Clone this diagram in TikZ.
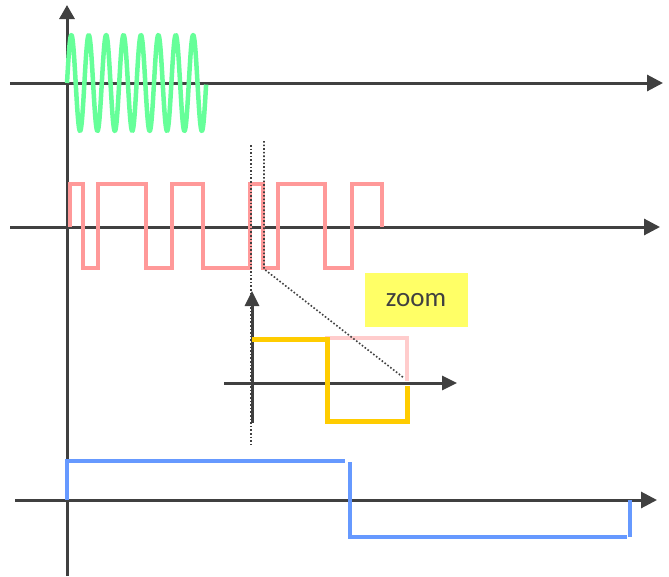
\documentclass[tikz,border=0pt]{standalone}
\usepackage{fontspec}
\newfontfamily\zoomfont{Carlito}
\usetikzlibrary{arrows.meta}
\definecolor{axisgray}{HTML}{404040}
\definecolor{sinegreen}{HTML}{66FF99}
\definecolor{sqpink}{HTML}{FF9999}
\definecolor{lightpink}{HTML}{FFCCCC}
\definecolor{zoomorange}{HTML}{FFCC00}
\definecolor{sqblue}{HTML}{6699FF}
\definecolor{zoomyellow}{HTML}{FFFF66}
\begin{document}
\begin{tikzpicture}[x=1pt,y=-1pt,
  axisline/.style={draw=axisgray,line width=3pt,-{Triangle[length=16pt,width=16pt]}},
  smallaxis/.style={draw=axisgray,line width=3pt,-{Triangle[length=15pt,width=14pt]}},
  sinewave/.style={draw=sinegreen,line width=4.5pt},
  pinkwave/.style={draw=sqpink,line width=4pt,line join=miter},
  bluewave/.style={draw=sqblue,line width=4pt},
  orangewave/.style={draw=zoomorange,line width=5pt},
  lightwave/.style={draw=lightpink,line width=4.5pt},
  dotline/.style={draw=axisgray,line width=1.6pt,dash pattern=on 1.6pt off 2pt},
  zoomlabel/.style={fill=zoomyellow,text=axisgray,font=\zoomfont\fontsize{27}{30}\selectfont,
    minimum width=103pt,minimum height=54pt,inner sep=0pt}]
\useasboundingbox (0,0) rectangle (669,576);
\fill[white] (0,0) rectangle (669,576);

% axes
\draw[axisline] (10,83) -- (663,83);
\draw[axisline] (10,227) -- (660,227);
\draw[axisline] (15,500) -- (657,500);
\draw[draw=axisgray,line width=3pt,-{Triangle[length=14pt,width=15pt]}] (67,576) -- (67,5);

% green sine burst
\draw[sinewave,line join=round] plot[domain=0:8,samples=500,smooth] ({67+17.4*\x},{83-48*sin(360*\x)});

% pink square wave
\draw[pinkwave] (70,227) -- (70,184) -- (83,184) -- (83,268) -- (98,268) -- (98,184)
  -- (146,184) -- (146,268) -- (172,268) -- (172,184) -- (203,184) -- (203,268)
  -- (250,268) -- (250,184) -- (263,184) -- (263,268) -- (278,268) -- (278,184)
  -- (325,184) -- (325,268) -- (352,268) -- (352,184) -- (382,184) -- (382,227);

% blue square wave
\draw[bluewave] (67,500) -- (67,461) -- (345,461);
\draw[bluewave] (350,462) -- (350,537);
\draw[bluewave] (348,537) -- (627,537);
\draw[bluewave] (630,500) -- (630,537);

% zoom inset
\draw[smallaxis] (224,383) -- (457,383);
\draw[smallaxis] (252,423) -- (252,291);
\draw[lightwave] (325,338) -- (407,338) -- (407,381);
\draw[orangewave] (252,339) -- (327,339) -- (327,421) -- (407,421) -- (407,386);

% dotted zoom guides
\coordinate (g1top) at (251,145);
\coordinate (g1bot) at (251,445);
\coordinate (g2top) at (264,141);
\coordinate (g2mid) at (264,269);
\coordinate (g2end) at (404,378);
\draw[dotline] (g1top) -- (g1bot);
\draw[dotline] (g2top) -- (g2mid) -- (g2end);

% zoom label
\node[zoomlabel] (zoombox) at (416,300) {zoom};
\end{tikzpicture}
\end{document}
